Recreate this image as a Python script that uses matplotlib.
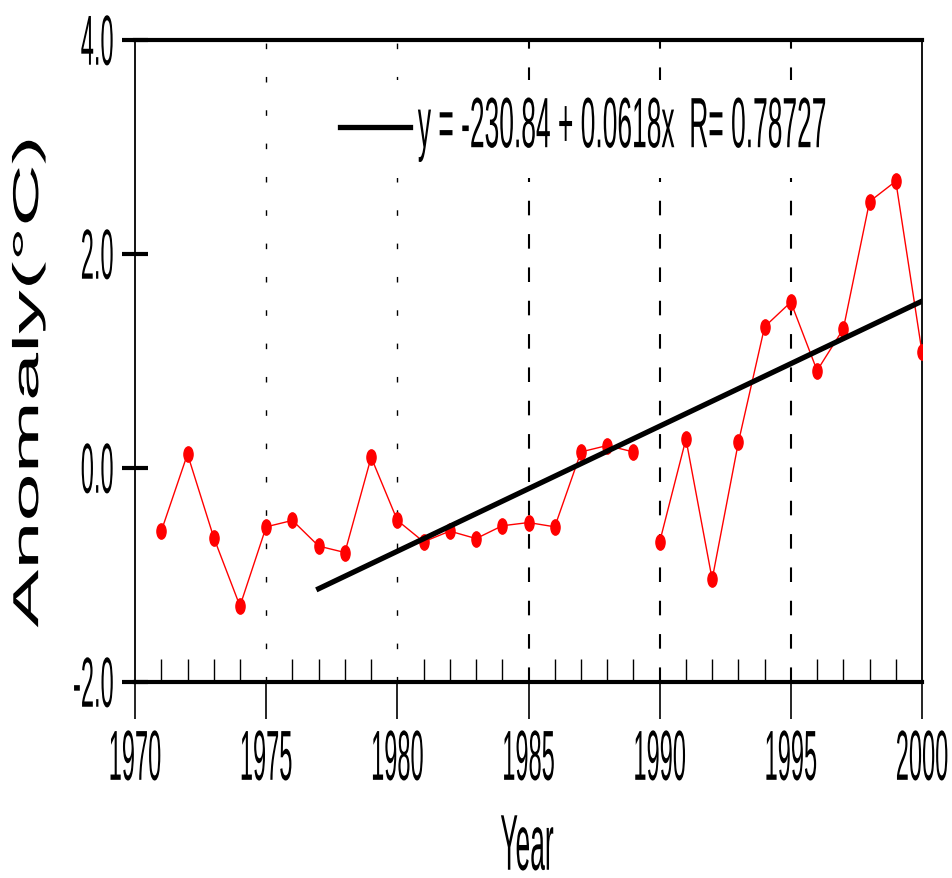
import numpy as np
import matplotlib
matplotlib.use("Agg")
import matplotlib.pyplot as plt
import matplotlib.patheffects as pe
from matplotlib.path import Path
from matplotlib.transforms import Affine2D

# annual temperature anomaly
years_a = [1971, 1972, 1973, 1974, 1975, 1976, 1977, 1978, 1979, 1980,
           1981, 1982, 1983, 1984, 1985, 1986, 1987, 1988, 1989]
anom_a = [-0.59, 0.13, -0.65, -1.29, -0.55, -0.49, -0.73, -0.79, 0.10, -0.49,
          -0.69, -0.59, -0.66, -0.54, -0.51, -0.55, 0.15, 0.21, 0.15]
years_b = [1990, 1991, 1992, 1993, 1994, 1995, 1996, 1997, 1998, 1999, 2000]
anom_b = [-0.69, 0.27, -1.04, 0.24, 1.32, 1.55, 0.91, 1.30, 2.49, 2.68, 1.08]

fit_from = 1977
fit_label = "y = -230.84 + 0.0618x  R= 0.78727"

xticks = [1970, 1975, 1980, 1985, 1990, 1995, 2000]
yticks = [-2.0, 0.0, 2.0, 4.0]


class Stretch(pe.AbstractPathEffect):
    """scale the glyph outlines about their centre (old plotting-program look)"""
    def __init__(self, sx=1.0, sy=1.0):
        super().__init__()
        self.sx, self.sy = sx, sy

    def draw_path(self, renderer, gc, tpath, affine, rgbFace=None):
        ext = tpath.get_extents()
        cx = (ext.x0 + ext.x1) / 2
        cy = (ext.y0 + ext.y1) / 2
        t = Affine2D().translate(-cx, -cy).scale(self.sx, self.sy).translate(cx, cy)
        renderer.draw_path(gc, tpath, t + affine, rgbFace)


tall = [Stretch(1.0, 3.0)]
font = "Liberation Sans"

fig = plt.figure(figsize=(9.53, 8.79), dpi=100)
ax = fig.add_axes([0.1417, 0.2230, 0.8258, 0.7304])

# linear fit on 1977-2000
yrs = np.array(years_a + years_b)
vals = np.array(anom_a + anom_b)
m = yrs >= fit_from
slope, icpt = np.polyfit(yrs[m], vals[m], 1)
xf = np.array([fit_from, yrs.max()])

for xv in xticks[1:-1]:
    if xv < 1985:
        ax.axvline(xv, color="black", lw=1.0, ls=(0, (4, 20)), zorder=1)
    else:
        ax.axvline(xv, color="black", lw=1.5, ls=(0, (7, 9)), zorder=1)

ell = Path(Path.unit_circle().vertices * [0.6, 1.0], Path.unit_circle().codes)
for xs, ys in [(years_a, anom_a), (years_b, anom_b)]:
    ax.plot(xs, ys, color="#ff0000", lw=1.0, marker=ell, ms=11,
            mec="#ff0000", mfc="#ff0000", zorder=3)
ax.plot(xf, slope * xf + icpt, color="black", lw=3.8, label=fit_label, zorder=4)

ax.set_xlim(1970, 2000)
ax.set_ylim(-2.0, 4.0)

for s in ["top", "bottom"]:
    ax.spines[s].set_linewidth(3.0)
for s in ["left", "right"]:
    ax.spines[s].set_linewidth(1.3)

ax.set_xticks(xticks)
ax.set_xticks(range(1971, 2000), minor=True)
ax.set_xticklabels([str(v) for v in xticks], family=font, fontsize=17,
                   path_effects=tall)
ax.tick_params(axis="x", which="major", direction="out", length=26.5, width=1.2, pad=20)
ax.tick_params(axis="x", which="minor", direction="in", length=16.5, width=1.0)
ax.set_yticks(yticks)
ax.set_yticklabels(["%.1f" % v for v in yticks], family=font, fontsize=17,
                   path_effects=tall)
ax.tick_params(axis="y", direction="inout", length=19, width=3.0, pad=6)

ax.set_xlabel("Year", family=font, fontsize=19, path_effects=tall)
ax.xaxis.set_label_coords(0.498, -0.235)
ax.set_ylabel("Anomaly(°C)", family=font, fontsize=26,
              path_effects=[Stretch(2.4, 1.0)])
ax.yaxis.set_label_coords(-0.113, 0.466)

leg = ax.legend(loc="center left", bbox_to_anchor=(0.2135, 0.861), frameon=True,
                facecolor="white", edgecolor="none", framealpha=1.0, fancybox=False,
                prop={"family": font, "size": 19}, handlelength=2.65,
                handletextpad=0.3, borderpad=1.4, borderaxespad=0)
for t in leg.get_texts():
    t.set_path_effects([Stretch(1.0, 2.7)])

fig.savefig("out.png", dpi=100)
